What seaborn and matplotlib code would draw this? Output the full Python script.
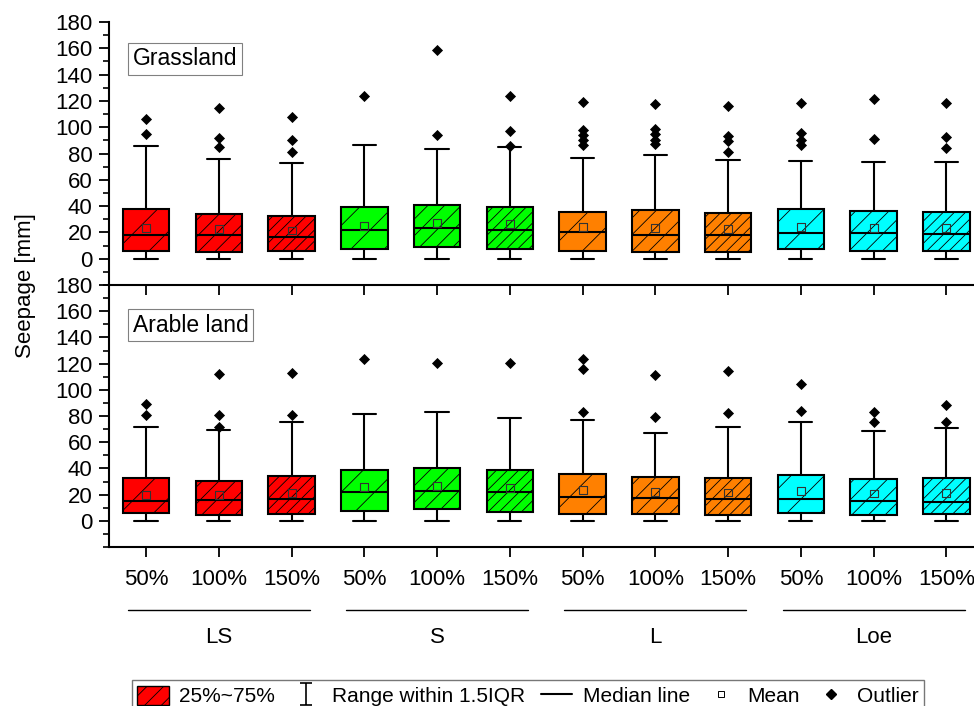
import numpy as np
import pandas as pd
import seaborn as sns
import matplotlib.pyplot as plt
from matplotlib.patches import Patch
from matplotlib.lines import Line2D
from matplotlib.path import Path

sns.set_style("ticks")
plt.rcParams["font.family"] = ["Liberation Sans", "DejaVu Sans"]
plt.rcParams["hatch.linewidth"] = 0.6
for key in ["text.color", "axes.labelcolor", "axes.edgecolor", "xtick.color", "ytick.color"]:
    plt.rcParams[key] = "black"

soils = ["LS", "S", "L", "Loe"]
levels = ["50%", "100%", "150%"]
soil_colors = ["#FF0000", "#00FF00", "#FF8000", "#00FFFF"]
level_hatches = ["/", "//", "///"]

# Grassland
grass_whislo = [0, 0, 0, 0, 0, 0, 0, 0, 0, 0, 0, 0]
grass_q1 = [5.5, 4.8, 5.5, 7.6, 8.9, 7.6, 5.8, 4.8, 5.1, 7.1, 6.1, 5.8]
grass_med = [17.7, 17.7, 16.7, 22.0, 23.3, 22.0, 20.0, 18.0, 18.4, 19.2, 19.2, 18.7]
grass_q3 = [37.9, 34.1, 32.6, 39.7, 41.0, 39.2, 35.4, 37.2, 34.9, 37.9, 36.2, 35.4]
grass_whishi = [85.7, 76.1, 72.6, 86.2, 83.2, 85.2, 76.6, 79.1, 75.1, 74.4, 73.6, 73.8]
grass_mean = [23.3, 22.3, 21.5, 25.0, 27.0, 26.3, 24.0, 23.3, 22.5, 24.3, 23.5, 23.5]
grass_out = [[106.2, 94.8], [114.6, 91.8, 84.7], [108.0, 90.5, 81.2], [123.4],
             [158.6, 93.8], [123.9, 96.9, 85.7], [118.9, 97.9, 94.1, 90.0, 86.2],
             [117.4, 98.9, 94.6, 90.5, 87.0], [115.9, 93.6, 89.5, 81.2],
             [118.4, 95.6, 90.3, 86.5], [121.4, 90.8], [118.6, 92.6, 84.2]]

# Arable land
arable_whislo = [0, 0, 0, 0, 0, 0, 0, 0, 0, 0, 0, 0]
arable_q1 = [5.6, 4.6, 5.1, 7.6, 8.9, 6.8, 4.9, 5.1, 4.6, 5.6, 4.3, 5.1]
arable_med = [15.2, 15.7, 16.7, 21.8, 22.4, 21.8, 18.3, 17.5, 16.5, 16.5, 15.5, 14.4]
arable_q3 = [32.7, 30.4, 34.0, 39.1, 40.3, 38.6, 35.5, 33.8, 32.5, 34.8, 32.2, 33.0]
arable_whishi = [71.5, 69.2, 75.8, 81.7, 82.9, 78.3, 77.3, 66.7, 71.8, 75.8, 68.4, 70.5]
arable_mean = [20.0, 20.0, 21.0, 25.6, 26.4, 24.9, 23.6, 21.8, 21.6, 22.6, 20.8, 21.0]
arable_out = [[89.3, 80.4], [111.8, 81.1, 71.5], [112.5, 80.6], [123.2], [120.7],
              [120.7], [123.7, 116.1, 82.9], [111.0, 79.1], [114.1, 82.1],
              [104.5, 83.7], [83.2, 75.3], [88.7, 75.6]]

panels = [
    ("Grassland", grass_whislo, grass_q1, grass_med, grass_q3, grass_whishi, grass_mean, grass_out),
    ("Arable land", arable_whislo, arable_q1, arable_med, arable_q3, arable_whishi, arable_mean, arable_out),
]

positions = np.arange(len(soils) * len(levels))
tick_labels = levels * len(soils)

fig = plt.figure(figsize=(9.74, 7.06), dpi=100)
ax_top = fig.add_axes([0.1119, 0.5963, 0.8881, 0.3725])
ax_bot = fig.add_axes([0.1119, 0.2252, 0.8881, 0.3711])
# keep the top panel's spine and ticks visible over the lower panel
ax_top.set_zorder(2)
ax_top.patch.set_visible(False)
ax_bot.patch.set_visible(False)

for ax, (name, wlo, q1, med, q3, whi, mean, out) in zip([ax_top, ax_bot], panels):
    stats = [
        dict(whislo=wlo[i], q1=q1[i], med=med[i], q3=q3[i], whishi=whi[i], fliers=[])
        for i in positions
    ]
    bp = ax.bxp(
        stats, positions=positions, widths=0.64, capwidths=0.32,
        patch_artist=True, showfliers=False,
        boxprops=dict(linewidth=1.5, edgecolor="black"),
        medianprops=dict(color="black", linewidth=1.5),
        whiskerprops=dict(color="black", linewidth=1.5),
        capprops=dict(color="black", linewidth=1.5),
    )
    for i, box in enumerate(bp["boxes"]):
        box.set_facecolor(soil_colors[i // 3])
        box.set_hatch(level_hatches[i % 3])

    df_mean = pd.DataFrame({"pos": positions, "value": mean})
    df_out = pd.DataFrame(
        [(p, v) for p, vals in zip(positions, out) for v in vals],
        columns=["pos", "value"],
    )
    sns.scatterplot(data=df_mean, x="pos", y="value", marker="s", s=32,
                    facecolor="none", edgecolor="#333333", linewidth=0.8,
                    ax=ax, legend=False, zorder=4)
    sns.scatterplot(data=df_out, x="pos", y="value", marker="D", s=32,
                    color="black", linewidth=0, ax=ax, legend=False, zorder=4)

    ax.set_xlim(-0.51, 11.38)
    ax.set_ylim(-20, 180)
    ax.set_yticks(np.arange(0, 181, 20))
    ax.set_yticks(np.arange(-20, 181, 10), minor=True)
    ax.set_xticks(positions)
    ax.set_xlabel("")
    ax.set_ylabel("")
    sns.despine(ax=ax)
    for s in ["left", "bottom"]:
        ax.spines[s].set_linewidth(1.5)
    ax.tick_params(axis="both", which="major", direction="out", length=7,
                   width=1.3, labelsize=16, pad=5, color="black")
    ax.tick_params(axis="y", which="minor", direction="out", length=4, width=1.2)
    ax.tick_params(axis="x", which="minor", length=0)
    ax.text(0.0277, 0.86 if name == "Grassland" else 0.847, name,
            transform=ax.transAxes, ha="left", va="center", fontsize=16.5,
            bbox=dict(boxstyle="square,pad=0.2", facecolor="white",
                      edgecolor="#808080", linewidth=0.8), zorder=5)

ax_top.set_xticklabels([""] * len(positions))
ax_bot.set_xticklabels(tick_labels)
ax_bot.tick_params(axis="x", pad=9)

# group labels under the bottom axis
trans = ax_bot.get_xaxis_transform()
for g, soil in enumerate(soils):
    mid = positions[g * 3 + 1]
    ax_bot.plot([mid - 1.25, mid + 1.25], [-0.24, -0.24], color="black",
                linewidth=1.0, transform=trans, clip_on=False)
    ax_bot.text(mid, -0.345, soil, transform=trans, ha="center", va="center",
                fontsize=16)

fig.text(0.026, 0.596, "Seepage [mm]", rotation=90, ha="center", va="center",
         fontsize=16)

ibeam = Path([(-0.5, 1), (0.5, 1), (0, 1), (0, -1), (-0.5, -1), (0.5, -1)],
             [Path.MOVETO, Path.LINETO, Path.MOVETO, Path.LINETO,
              Path.MOVETO, Path.LINETO])
handles = [
    Patch(facecolor=soil_colors[0], edgecolor="black", hatch="//", linewidth=1.0),
    Line2D([], [], color="black", marker=ibeam, linestyle="none", markersize=16,
           markerfacecolor="none", markeredgewidth=1.2),
    Line2D([], [], color="black", linewidth=1.5),
    Line2D([], [], marker="s", linestyle="none", markerfacecolor="none",
           markeredgecolor="black", markersize=5, markeredgewidth=0.7),
    Line2D([], [], marker="D", linestyle="none", color="black", markersize=5),
]
labels = ["25%~75%", "Range within 1.5IQR", "Median line", "Mean", "Outlier"]
leg = fig.legend(handles, labels, loc="lower center", bbox_to_anchor=(0.542, -0.008),
                 ncol=5, frameon=True, fancybox=False, fontsize=15,
                 handlelength=1.5, handleheight=1.05, handletextpad=0.5,
                 columnspacing=0.75, borderpad=0.25, borderaxespad=0)
leg.get_frame().set_edgecolor("#555555")
leg.get_frame().set_linewidth(1.0)

fig.savefig("out.png", dpi=100)
